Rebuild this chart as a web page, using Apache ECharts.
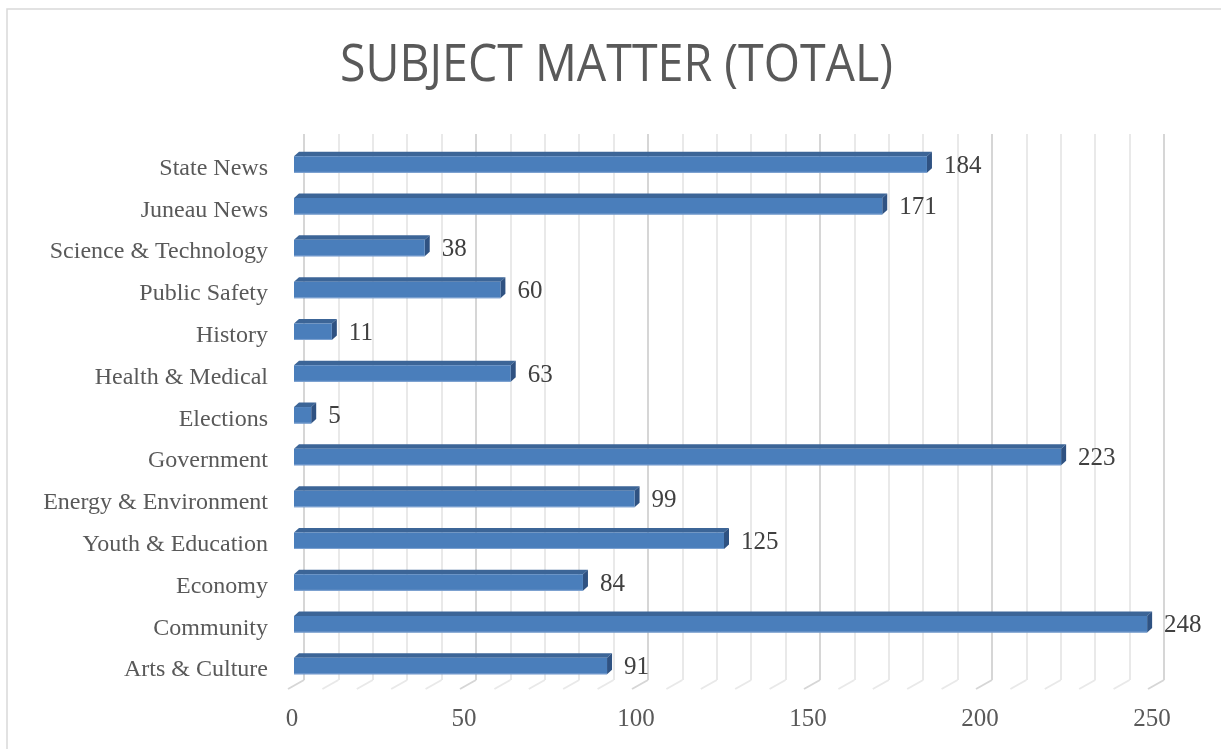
<!DOCTYPE html>
<html>
<head>
<meta charset="utf-8">
<script src="https://cdn.jsdelivr.net/npm/echarts@6/dist/echarts.min.js"></script>
<style>
html,body{margin:0;padding:0;background:#fff;}
#chart{width:1221px;height:749px;}
</style>
</head>
<body>
<div id="chart"></div>
<script>
const titleText = 'SUBJECT MATTER (TOTAL)';
const categories = ['State News','Juneau News','Science & Technology','Public Safety','History','Health & Medical','Elections','Government','Energy & Environment','Youth & Education','Economy','Community','Arts & Culture'];
const values = [184,171,38,60,11,63,5,223,99,125,84,248,91];
const floorTicks = [0,10,20,30,40,50,60,70,80,90,100,110,120,130,140,150,160,170,180,190,200,210,220,230,240,250];

const chart = echarts.init(document.getElementById('chart'), null, {renderer:'canvas'});

const cv = document.createElement('canvas').getContext('2d');
const titleFont = '52px "Open Sans"';
cv.font = titleFont;
const tw = cv.measureText(titleText).width || 700;
const titleScale = 553 / tw;

const option = {
  backgroundColor: '#ffffff',
  animation: false,
  graphic: [
    {type:'rect', shape:{x:7, y:9, width:1240, height:760}, style:{fill:'none', stroke:'#d9d9d9', lineWidth:1.5}, silent:true, z:-10},
    {type:'text', x:616.5, y:66, scaleX:titleScale, originX:0, originY:0,
      style:{text:titleText, font:titleFont, fill:'#595959', align:'center', verticalAlign:'middle'}}
  ],
  grid: [
    {left:294, width:860, top:142.6, height:543.4},
    {left:304, width:860, top:134, height:546}
  ],
  xAxis: [
    {type:'value', gridIndex:0, min:0, max:250, interval:50,
      axisLine:{show:false}, axisTick:{show:false}, splitLine:{show:false},
      axisLabel:{color:'#595959', fontFamily:'"Liberation Serif", serif', fontSize:25, margin:21,
        formatter: v => String(v), padding:[0,4,0,0]}},
    {type:'value', gridIndex:1, min:0, max:250, interval:10,
      axisLine:{show:false}, axisTick:{show:false}, axisLabel:{show:false},
      splitLine:{show:true, lineStyle:{width:2, color:['#d6d6d6','#e9e9e9','#e9e9e9','#e9e9e9','#e9e9e9']}}}
  ],
  yAxis: [
    {type:'category', gridIndex:0, data:categories, inverse:true,
      axisLine:{show:false}, axisTick:{show:false}, splitLine:{show:false},
      axisLabel:{show:false}},
    {type:'value', gridIndex:1, min:0, max:1, show:false}
  ],
  series: [
    {
      type:'custom', xAxisIndex:1, yAxisIndex:1, silent:true, z:1,
      data: floorTicks.map(t => [t, 0]),
      renderItem: function(params, api){
        const p = api.coord([api.value(0), 0]);
        const major = api.value(0) % 50 === 0;
        return {type:'line', shape:{x1:p[0], y1:p[1], x2:p[0]-16, y2:p[1]+9},
          style:{stroke: major ? '#d6d6d6' : '#e9e9e9', lineWidth:2}};
      }
    },
    {
      type:'custom', xAxisIndex:0, yAxisIndex:0, z:5,
      data: values.map((v,i) => [v, i]),
      encode:{x:0, y:1},
      renderItem: function(params, api){
        const v = api.value(0), i = api.value(1);
        const p0 = api.coord([0, i]);
        const p1 = api.coord([v, i]);
        const h = 16.5, dx = 5, dy = -4.5;
        const top = p0[1] - h/2 + 1;
        const x0 = p0[0], x1 = p1[0];
        return {type:'group', children:[
          {type:'polygon', shape:{points:[[x0,top],[x0+dx,top+dy],[x1+dx,top+dy],[x1,top]]},
            style:{fill:'#3c6597'}},
          {type:'polygon', shape:{points:[[x1,top],[x1+dx,top+dy],[x1+dx,top+dy+h],[x1,top+h]]},
            style:{fill:'#2f5282'}},
          {type:'rect', shape:{x:x0, y:top, width:x1-x0, height:h},
            style:{fill:'#4a7ebb'}},
          {type:'line', shape:{x1:x0, y1:top+h-0.5, x2:x1, y2:top+h-0.5},
            style:{stroke:'#7fa3d1', lineWidth:1}},
          {type:'text', x:x1+17, y:top+h/2+1.5,
            style:{text:String(v), fill:'#404040', font:'25px "Liberation Serif", serif', align:'left', verticalAlign:'middle'}},
          {type:'text', x:x0-26, y:top+h/2+4,
            style:{text:categories[i], fill:'#595959', font:'24px "Liberation Serif", serif', align:'right', verticalAlign:'middle'}}
        ]};
      }
    }
  ]
};
chart.setOption(option);
</script>
</body>
</html>
